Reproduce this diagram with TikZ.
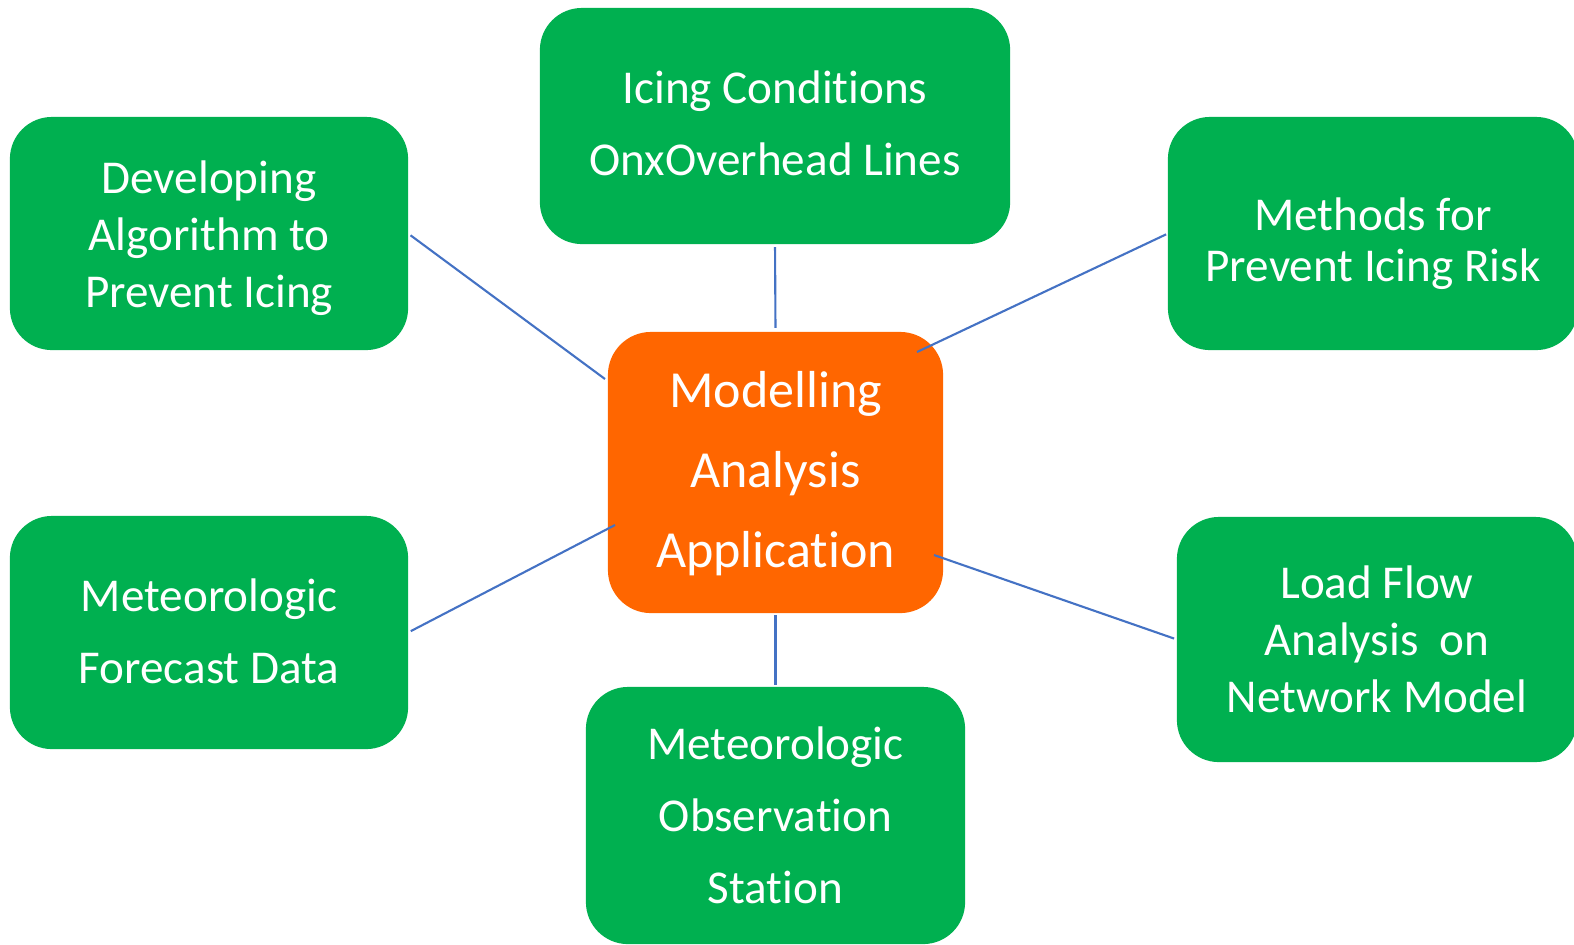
\documentclass[tikz,border=0pt]{standalone}
\usepackage{fontspec}
\setmainfont{Carlito}[Ligatures=NoCommon]
\definecolor{boxgreen}{HTML}{00B050}
\definecolor{huborange}{HTML}{FF6600}
\definecolor{linkblue}{HTML}{4472C4}
\tikzset{
  topic/.style={draw=none, fill=boxgreen, rounded corners=0.42cm,
    inner sep=0pt, outer sep=0pt},
  hub/.style={draw=none, fill=huborange, rounded corners=0.43cm,
    inner sep=0pt, outer sep=0pt},
  txt/.style={text=white, align=center, inner sep=0pt, outer sep=0pt},
  link/.style={draw=linkblue, line width=0.6pt},
  fs/.style={font=\fontsize{13.4}{#1}\selectfont}
}
\begin{document}
\begin{tikzpicture}[x=0.01cm, y=-0.01cm]
  \useasboundingbox (0,0) rectangle (1574,944);
  \clip (0,0) rectangle (1574,944);

  % central hub
  \node[hub, minimum width=3.35cm, minimum height=2.81cm,
    label={[txt, font=\fontsize{14.8}{22.8}\selectfont, yshift=-0.01cm]center:{Modelling\\Analysis\\Application}}]
    (c) at (775.5,472.5) {};

  % surrounding topics
  \node[topic, minimum width=4.70cm, minimum height=2.36cm,
    label={[txt, fs=20.4pt, yshift=0.025cm]center:{Icing Conditions\\OnxOverhead Lines}}]
    (t) at (775,126) {};
  \node[topic, minimum width=3.98cm, minimum height=2.33cm,
    label={[txt, fs=16.2pt, yshift=-0.05cm]center:{Developing\\Algorithm to\\Prevent Icing}}]
    (lt) at (209,233.5) {};
  \node[topic, minimum width=4.10cm, minimum height=2.33cm,
    label={[txt, fs=14.6pt, yshift=-0.10cm]center:{Methods for\\Prevent Icing Risk}}]
    (rt) at (1373,233.5) {};
  \node[topic, minimum width=3.98cm, minimum height=2.33cm,
    label={[txt, fs=20.5pt, yshift=0.015cm]center:{Meteorologic\\Forecast Data}}]
    (lb) at (209,632.5) {};
  \node[topic, minimum width=4.00cm, minimum height=2.45cm,
    label={[txt, fs=16.2pt]center:{Load Flow\\Analysis\ \ on\\Network Model}}]
    (rb) at (1377,639.5) {};
  \node[topic, minimum width=3.79cm, minimum height=2.57cm,
    label={[txt, fs=20.5pt]center:{Meteorologic\\Observation\\Station}}]
    (b) at (775.5,815.5) {};

  % line ends that sit on or inside the hub
  \coordinate (c-lt) at (605,379);
  \coordinate (c-rt) at (917,352);
  \coordinate (c-lb) at (615,525);
  \coordinate (c-rb) at (934,555);

  % connectors
  \draw[link, shorten <=0.03cm, shorten >=0.04cm] (t.south) -- (c.north);
  \draw[link, shorten <=0.02cm, shorten >=0.02cm] (c.south) -- (b.north);
  \draw[link, shorten <=0.03cm] (lt.east) -- (c-lt);
  \draw[link, shorten <=0.02cm] (rt.west) -- (c-rt);
  \draw[link, shorten <=0.03cm] (lb.east) -- (c-lb);
  \draw[link, shorten >=0.03cm] (c-rb) -- (rb.west);
\end{tikzpicture}
\end{document}
